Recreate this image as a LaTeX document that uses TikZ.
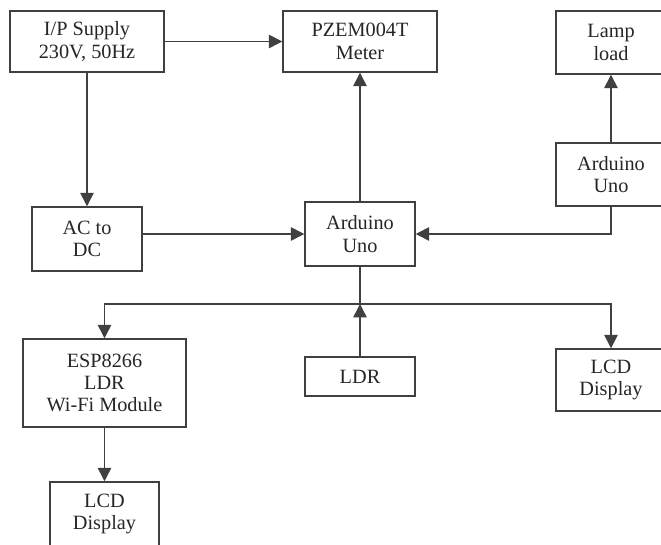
\documentclass[tikz,border=0pt]{standalone}
\usepackage{fontspec}
\setmainfont{Liberation Serif}
\usetikzlibrary{arrows.meta}
\definecolor{lin}{HTML}{404040}
\begin{document}
\begin{tikzpicture}[x=0.75pt,y=-0.75pt,
  box/.style={draw=lin, line width=1.1pt, fill=white, align=center, inner sep=0pt,
    font=\fontsize{15.2pt}{16.8pt}\selectfont, text=black!85},
  conn/.style={draw=lin, line width=1.1pt},
  arr/.style={conn, -{Triangle[length=10pt,width=10pt]}}]
\useasboundingbox (0,0) rectangle (661,545);
\clip (0,0) rectangle (661,545);
\node[box, minimum width=154*0.75pt, minimum height=61*0.75pt] (ip) at (87,41.5) {I/P Supply\\230V, 50Hz};
\node[box, minimum width=154*0.75pt, minimum height=61*0.75pt] (pzem) at (360,41.5) {PZEM004T\\Meter};
\node[box, minimum width=110*0.75pt, minimum height=63*0.75pt] (lamp) at (611,42.5) {Lamp\\load};
\node[box, minimum width=110*0.75pt, minimum height=63*0.75pt] (ard2) at (611,174.5) {Arduino\\Uno};
\node[box, minimum width=110*0.75pt, minimum height=64*0.75pt] (acdc) at (87,239) {AC to\\DC};
\node[box, minimum width=110*0.75pt, minimum height=64*0.75pt] (ard1) at (360,234) {Arduino\\Uno};
\node[box, minimum width=163*0.75pt, minimum height=88*0.75pt] (esp) at (104.5,383) {ESP8266\\LDR\\Wi-Fi Module};
\node[box, minimum width=110*0.75pt, minimum height=39*0.75pt] (ldr) at (360,376.5) {LDR};
\node[box, minimum width=110*0.75pt, minimum height=62*0.75pt] (lcdr) at (611,380) {LCD\\Display};
\node[box, minimum width=109*0.75pt, minimum height=64*0.75pt] (lcdl) at (104.5,514) {LCD\\Display};
\coordinate (br) at (360,304);
\draw[arr] (ip.east) -- (pzem.west);
\draw[arr] (ip.south) -- (acdc.north);
\draw[arr] (acdc.east |- ard1.west) -- (ard1.west);
\draw[arr] (ard1.north) -- (pzem.south);
\draw[arr] (ard2.south) |- (ard1.east);
\draw[arr] (ard2.north) -- (lamp.south);
\draw[conn] (ard1.south) -- (br);
\draw[arr] (br) -| (esp.north);
\draw[arr] (br) -| (lcdr.north);
\draw[arr] (ldr.north) -- (br);
\draw[arr] (esp.south) -- (lcdl.north);
\end{tikzpicture}
\end{document}
